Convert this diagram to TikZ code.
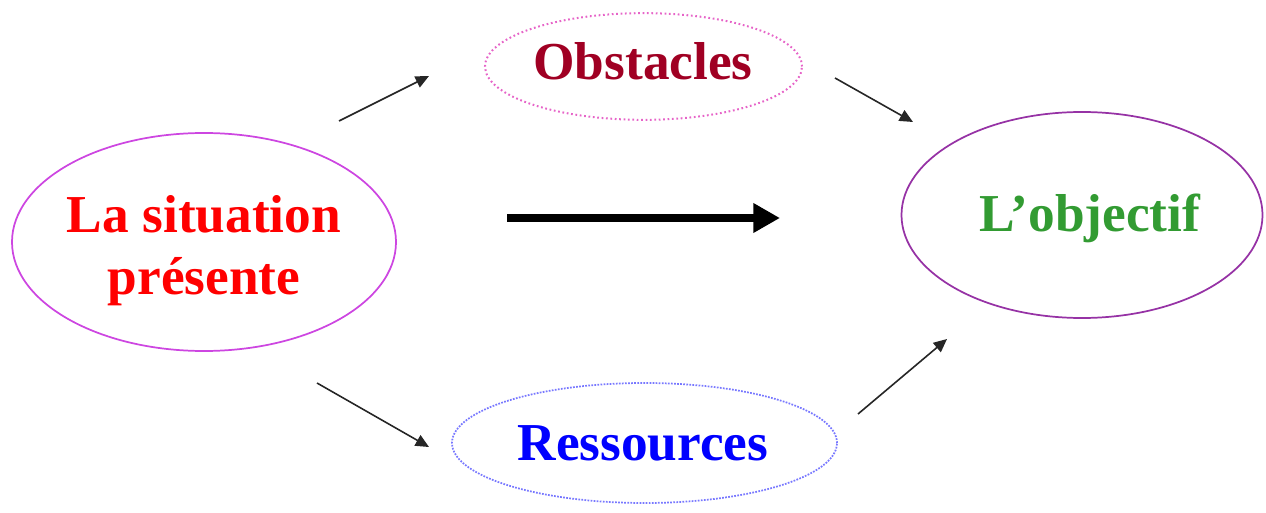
\documentclass[tikz,border=0pt]{standalone}
\usepackage{fontspec}
\setmainfont{Liberation Serif}
\usetikzlibrary{shapes.geometric,arrows.meta}
\definecolor{obsred}{RGB}{160,0,35}
\definecolor{obspink}{RGB}{230,100,200}
\definecolor{resblue}{RGB}{0,0,255}
\definecolor{reslight}{RGB}{120,120,255}
\definecolor{sitviolet}{RGB}{205,70,225}
\definecolor{objpurple}{RGB}{150,50,165}
\definecolor{objgreen}{RGB}{50,155,50}
\tikzset{
  bubble/.style={ellipse, inner sep=0pt, line width=1.3pt},
  lbl/.style={font=\fontsize{40}{46.5}\selectfont\bfseries, align=center, inner sep=0pt},
  thinarrow/.style={-{Triangle[length=10pt,width=9pt]}, line width=1.2pt, black!85},
  bigarrow/.style={-{Triangle[length=20pt,width=21pt]}, line width=6pt, black}
}
\begin{document}
\begin{tikzpicture}[x=0.75pt,y=-0.75pt]
\useasboundingbox (0,0) rectangle (1266,513);
% ellipses
\node[bubble, draw=sitviolet, minimum width=288pt, minimum height=163.5pt] (sit) at (204,242) {};
\node[bubble, draw=obspink, dotted, line width=1.5pt, minimum width=237.75pt, minimum height=80pt] (obs) at (643.5,66.5) {};
\node[bubble, draw=reslight, densely dotted, minimum width=288.75pt, minimum height=90pt] (res) at (644.5,443) {};
\node[bubble, draw=objpurple, minimum width=270.75pt, minimum height=154.5pt] (obj) at (1082,215) {};
% labels
\node[lbl, text=red] (sittxt) at (204,251) {La situation\\présente};
\node[lbl, text=obsred] (obstxt) at (643,61) {Obstacles};
\node[lbl, text=resblue] (restxt) at (643,443) {Ressources};
\node[lbl, text=objgreen] (objtxt) at (1090,218) {L’objectif};
% arrow end points
\coordinate (a1s) at (339,121); \coordinate (a1e) at (429,76);
\coordinate (a2s) at (835,78);  \coordinate (a2e) at (913,122);
\coordinate (a3s) at (317,383); \coordinate (a3e) at (429,447);
\coordinate (a4s) at (858,414); \coordinate (a4e) at (947,339);
\coordinate (bs) at (507,218);  \coordinate (be) at (780,218);
\draw[thinarrow] (a1s) -- (a1e);
\draw[thinarrow] (a2s) -- (a2e);
\draw[thinarrow] (a3s) -- (a3e);
\draw[thinarrow] (a4s) -- (a4e);
\draw[bigarrow] (bs) -- (be);
\end{tikzpicture}
\end{document}
